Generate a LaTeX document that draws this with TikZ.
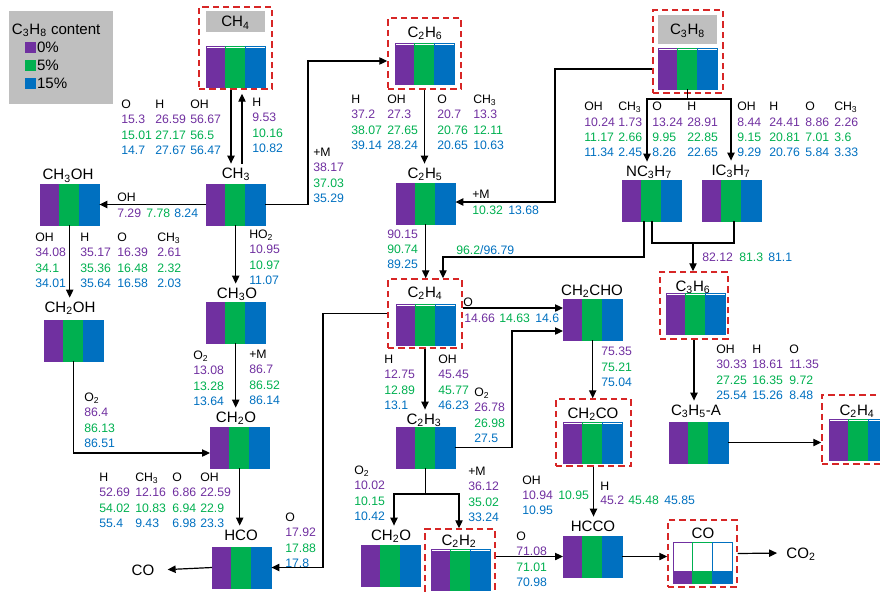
\documentclass[tikz,border=0pt]{standalone}
\usepackage{fontspec}
\setmainfont{Liberation Sans}
\usetikzlibrary{arrows.meta,fit}
\definecolor{cpur}{RGB}{112,48,160}
\definecolor{cgrn}{RGB}{0,176,80}
\definecolor{cblu}{RGB}{0,112,192}
\definecolor{cred}{RGB}{215,38,38}
\definecolor{cgray}{RGB}{191,191,191}
\newcommand{\subs}[1]{\textsubscript{#1}}
\tikzset{flux/.style={x=0.75pt,y=-0.75pt,font=\fontsize{9.2}{11}\selectfont}}
\tikzset{spc/.style={font=\fontsize{11.3}{13}\selectfont,inner sep=0pt,outer sep=3pt,
                     text height=8.1pt,text depth=0pt},
         hdr/.style={anchor=west,inner sep=0pt,text height=6.6pt,text depth=0pt},
         vp/.style={hdr,cpur}, vg/.style={hdr,cgrn}, vb/.style={hdr,cblu},
         arr/.style={line width=0.9pt,-{Triangle[length=6pt,width=5.5pt]}},
         ln/.style={line width=0.9pt},
         rbox/.style={draw=cred,line width=1.1pt,dash pattern=on 4.8pt off 3pt,inner sep=0pt},
         barbox/.style={minimum width=44.55pt,minimum height=30.75pt,inner sep=0pt,outer sep=0pt}}
% stacked bar: name, left, top, consumed share
\newcommand{\bars}[4]{%
  \foreach \c [count=\i from 0] in {cpur,cgrn,cblu}
    {\draw[\c,line width=0.6pt] (#2+\i*19.8,#3) rectangle ++(19.8,41);
     \fill[\c] (#2+\i*19.8,#3+41) rectangle ++(19.8,-41*#4);}
  \node[barbox] (#1) at (#2+29.7,#3+20.5) {};}
% rate column: name, left, header y, header, 0% / 5% / 15%
\newcommand{\rates}[7]{%
  \node[hdr] (#1) at (#2,#3) {#4};
  \node[vp] (#1a) at (#2,#3+15.3) {#5};
  \node[vg] (#1b) at (#2,#3+30.6) {#6};
  \node[vb] (#1c) at (#2,#3+45.9) {#7};}

\begin{document}
\begin{tikzpicture}[flux]
  \useasboundingbox (0,0) rectangle (880,593);
  \clip (0,0) rectangle (880,593);
  % legend
  \node[fill=cgray,minimum width=78pt,minimum height=69.75pt,inner sep=0pt,anchor=north west] (legbox) at (9,11) {};
  \node[spc,anchor=west,outer sep=0pt] (legtitle) at (12,29) {C\subs{3}H\subs{8} content};
  \foreach \c/\t/\y [count=\k] in {cpur/0\%/47,cgrn/5\%/65,cblu/15\%/83}
    {\node[fill=\c,minimum size=8.25pt,inner sep=0pt] (legsq\k) at (30.5,\y) {};
     \node[spc,anchor=west,outer sep=0pt] (legtx\k) at (37,\y) {\t};}

  % reactant frames
  \node[rbox,fit={(199,7) (272,89)}] (ch4box) {};
  \node[rbox,fit={(388,18) (461,89)}] (c2h6box) {};
  \node[rbox,fit={(653,10) (723,93)}] (c3h8box) {};
  \node[rbox,fit={(388,279) (462,348)}] (c2h4box) {};
  \node[rbox,fit={(660,272) (728,339)}] (c3h6box) {};
  \node[rbox,fit={(556,399) (631,466)}] (ch2cobox) {};
  \node[rbox,fit={(425,529) (495,603)}] (c2h2box) {};
  \node[rbox,fit={(668,520) (737,587)}] (cobox) {};
  \node[rbox,fit={(822,395) (903,464)}] (c2h4rbox) {};

  % species
  \node[spc,fill=cgray,minimum width=44.25pt,minimum height=15.75pt,outer sep=0pt] (ch4l) at (235.5,21.5) {CH\subs{4}};
  \node[spc,fill=cgray,minimum width=44.25pt,minimum height=21.75pt,outer sep=0pt] (c3h8l) at (687.5,29.5) {C\subs{3}H\subs{8}};
  \bars{ch4}{206}{46}{0.96}
  \bars{c3h8}{658}{48}{0.96}
  \node[spc] (ch3l) at (236,173) {CH\subs{3}};        \bars{ch3}{206}{184}{1}
  \node[spc] (ch3ohl) at (68,174.5) {CH\subs{3}OH};   \bars{ch3oh}{40}{184}{1}
  \node[spc] (ch2ohl) at (70,307) {CH\subs{2}OH};     \bars{ch2oh}{44}{320}{1}
  \node[spc] (ch3ol) at (237,293) {CH\subs{3}O};      \bars{ch3o}{206}{302}{1}
  \node[spc] (ch2oal) at (236,417) {CH\subs{2}O};     \bars{ch2oa}{210}{427}{1}
  \node[spc] (hcol) at (241,535) {HCO};               \bars{hco}{212}{547}{1}
  \node[spc] (col) at (143,570) {CO};
  \node[spc] (c2h6l) at (425,32) {C\subs{2}H\subs{6}};   \bars{c2h6}{395}{43}{0.96}
  \node[spc] (c2h5l) at (425,173) {C\subs{2}H\subs{5}};  \bars{c2h5}{396}{183}{1}
  \node[spc] (c2h4l) at (425,292) {C\subs{2}H\subs{4}};  \bars{c2h4}{396}{304}{0.96}
  \node[spc] (c2h3l) at (424,419) {C\subs{2}H\subs{3}};  \bars{c2h3}{396}{427}{1}
  \node[spc] (ch2obl) at (391,535) {CH\subs{2}O};        \bars{ch2ob}{361}{545}{1}
  \node[spc] (c2h2l) at (459,540) {C\subs{2}H\subs{2}};  \bars{c2h2}{431}{549}{0.96}
  \node[spc] (ch2chol) at (592,290) {CH\subs{2}CHO};     \bars{ch2cho}{563}{299}{1}
  \node[spc] (ch2col) at (593,413) {CH\subs{2}CO};       \bars{ch2co}{563}{422}{0.96}
  \node[spc] (hccol) at (593,526) {HCCO};                \bars{hcco}{563}{536}{1}
  \node[spc] (col2) at (703,533) {CO};                   \bars{co}{673}{542}{0.29}
  \node[spc] (co2l) at (801,553) {CO\subs{2}};
  \node[spc] (nc3h7l) at (649,171) {NC\subs{3}H\subs{7}};  \bars{nc3h7}{622}{180}{1}
  \node[spc] (ic3h7l) at (731,170) {IC\subs{3}H\subs{7}};  \bars{ic3h7}{702}{180}{1}
  \node[spc] (c3h6l) at (693,286) {C\subs{3}H\subs{6}};    \bars{c3h6}{666}{293}{0.96}
  \node[spc] (c3h5al) at (696,410) {C\subs{3}H\subs{5}-A}; \bars{c3h5a}{669}{422}{1}
  \node[spc] (c2h4rl) at (857,410) {C\subs{2}H\subs{4}};   \bars{c2h4r}{829}{419}{0.96}

  % methane branch
  \draw[arr] (ch4box.south -| 231,0) -- (ch3l.north -| 231,0);
  \draw[arr,shorten >=3pt] (ch3l.north -| 242,0) -- (ch4box.south -| 242,0);
  \draw[arr] (ch3.west) -- (ch3oh.east);
  \draw[arr] (ch3.east) -| (308,61) -- (c2h6box.west |- 0,61);
  \draw[arr] (ch3.south) -- (ch3ol.north -| ch3.south);
  \draw[arr] (ch3oh.south) -- (ch2ohl.north -| ch3oh.south);
  \draw[arr] (ch2oh.south) |- (ch2oa.west |- 0,453);
  \draw[arr] (ch3o.south) -- (ch2oal.north -| ch3o.south);
  \draw[arr] (ch2oa.south) -- (hcol.north -| ch2oa.south);
  \draw[arr,shorten >=7pt] (hco.west) -- (col.east);
  \draw[arr] (c2h4box.west) -| (323,567.5) -- (hco.east);
  % ethane / propane branch
  \draw[arr] (c2h6box.south) -- (c2h5l.north -| c2h6box.south);
  \draw[arr] (c3h8box.west |- 0,69) -| (555,202) -- (c2h5.east |- 0,202);
  \draw[arr] (c2h5.south) -- (c2h4box.north -| c2h5.south);
  \coordinate (jc) at (687.7,99);
  \draw[ln] (c3h8.south) -- (jc);
  \draw[arr] (jc) -| (nc3h7l.north -| 647,0);
  \draw[arr] (jc) -| (ic3h7l.north -| 731,0);
  \draw[arr] (nc3h7.south -| 644,0) |- (443,257) -- (c2h4box.north -| 443,0);
  \coordinate (jn) at (693,243);
  \draw[ln] (nc3h7.south -| 652,0) |- (jn) -| (ic3h7.south -| 734,0);
  \draw[arr] (jn) -- (c3h6box.north -| jn);
  \draw[arr] (c3h6box.south) -- (c3h5al.north -| c3h6box.south);
  \draw[arr] (c3h5a.east) -- (c2h4rbox.west |- c3h5a.east);
  \draw[arr] (c2h4box.east |- 0,308) -- (ch2cho.west |- 0,308);
  \draw[arr] (c2h4box.south) -- (c2h3l.north -| c2h4box.south);
  \draw[arr] (c2h3.east) -| (512,331) -- (ch2cho.west |- 0,331);
  \draw[arr] (ch2cho.south) -- (ch2cobox.north -| ch2cho.south);
  \draw[arr] (ch2cobox.south) -- (hccol.north -| ch2cobox.south);
  \coordinate (jd) at (425.7,494);
  \draw[ln] (c2h3.south) -- (jd);
  \draw[arr] (jd) -| (ch2obl.north -| 394,0);
  \draw[arr] (jd) -| (c2h2box.north -| 459,0);
  \draw[arr] (c2h2box.east |- hcco.west) -- (hcco.west);
  \draw[arr] (hcco.east) -- (cobox.west |- hcco.east);
  \draw[arr,shorten >=4pt] (cobox.east) -- (co2l.west);

  % rates
  \rates{ra1}{121}{104}{O}{15.3}{15.01}{14.7}
  \rates{ra2}{155}{104}{H}{26.59}{27.17}{27.67}
  \rates{ra3}{190}{104}{OH}{56.67}{56.5}{56.47}
  \rates{rb}{252}{102}{H}{9.53}{10.16}{10.82}
  \rates{rc}{313}{152}{+M}{38.17}{37.03}{35.29}
  \node[hdr] (rd) at (117,197) {OH};
  \node[vp] (rda) at (117,213) {7.29}; \node[vg] (rdb) at (146,213) {7.78}; \node[vb] (rdc) at (174,213) {8.24};
  \rates{re1}{35}{237}{OH}{34.08}{34.1}{34.01}
  \rates{re2}{80}{237}{H}{35.17}{35.36}{35.64}
  \rates{re3}{117}{237}{O}{16.39}{16.48}{16.58}
  \rates{re4}{157}{237}{CH\subs{3}}{2.61}{2.32}{2.03}
  \rates{rf}{249}{234}{HO\subs{2}}{10.95}{10.97}{11.07}
  \rates{rg1}{193}{355}{O\subs{2}}{13.08}{13.28}{13.64}
  \rates{rg2}{249}{354}{+M}{86.7}{86.52}{86.14}
  \rates{rh}{84}{397}{O\subs{2}}{86.4}{86.13}{86.51}
  \rates{ri1}{99}{477}{H}{52.69}{54.02}{55.4}
  \rates{ri2}{135}{477}{CH\subs{3}}{12.16}{10.83}{9.43}
  \rates{ri3}{172}{477}{O}{6.86}{6.94}{6.98}
  \rates{ri4}{200}{477}{OH}{22.59}{22.9}{23.3}
  \rates{rj}{285}{517}{O}{17.92}{17.88}{17.8}
  \rates{rk1}{351}{99}{H}{37.2}{38.07}{39.14}
  \rates{rk2}{387}{99}{OH}{27.3}{27.65}{28.24}
  \rates{rk3}{437}{99}{O}{20.7}{20.76}{20.65}
  \rates{rk4}{473}{99}{CH\subs{3}}{13.3}{12.11}{10.63}
  \rates{rl}{387}{218.5}{}{90.15}{90.74}{89.25}
  \node[hdr] (rm) at (472,194) {+M};
  \node[vg] (rmb) at (472,210) {10.32}; \node[vb] (rmc) at (508,210) {13.68};
  \node[hdr] (rn) at (456,250) {\textcolor{cgrn}{96.2}\textcolor{cblu}{/96.79}};
  \node[vp] (roa) at (702,257) {82.12}; \node[vg] (rob) at (739,257) {81.3}; \node[vb] (roc) at (768,257) {81.1};
  \rates{rp1}{584}{106.5}{OH}{10.24}{11.17}{11.34}
  \rates{rp2}{618}{106.5}{CH\subs{3}}{1.73}{2.66}{2.45}
  \rates{rp3}{652}{106.5}{O}{13.24}{9.95}{8.26}
  \rates{rp4}{687}{106.5}{H}{28.91}{22.85}{22.65}
  \rates{rp5}{737}{106.5}{OH}{8.44}{9.15}{9.29}
  \rates{rp6}{769}{106.5}{H}{24.41}{20.81}{20.76}
  \rates{rp7}{805}{106.5}{O}{8.86}{7.01}{5.84}
  \rates{rp8}{834}{106.5}{CH\subs{3}}{2.26}{3.6}{3.33}
  \node[hdr] (rq) at (463,302) {O};
  \node[vp] (rqa) at (464,318) {14.66}; \node[vg] (rqb) at (499,318) {14.63}; \node[vb] (rqc) at (535,318) {14.6};
  \rates{rr1}{384}{359}{H}{12.75}{12.89}{13.1}
  \rates{rr2}{438}{359}{OH}{45.45}{45.77}{46.23}
  \rates{rs}{474}{392}{O\subs{2}}{26.78}{26.98}{27.5}
  \rates{rt}{601}{336}{}{75.35}{75.21}{75.04}
  \rates{ru1}{716}{349}{OH}{30.33}{27.25}{25.54}
  \rates{ru2}{752}{349}{H}{18.61}{16.35}{15.26}
  \rates{ru3}{789}{349}{O}{11.35}{9.72}{8.48}
  \rates{rv1}{354}{470}{O\subs{2}}{10.02}{10.15}{10.42}
  \rates{rv2}{468}{471}{+M}{36.12}{35.02}{33.24}
  \node[hdr] (rw) at (522,480) {OH};
  \node[vp] (rwa) at (522,495.5) {10.94}; \node[vg] (rwb) at (558,495.5) {10.95}; \node[vb] (rwc) at (522,510.5) {10.95};
  \node[hdr] (rx) at (600,486) {H};
  \node[vp] (rxa) at (600,500.5) {45.2}; \node[vg] (rxb) at (628,500.5) {45.48}; \node[vb] (rxc) at (664,500.5) {45.85};
  \rates{ry}{516}{536}{O}{71.08}{71.01}{70.98}
\end{tikzpicture}
\end{document}
